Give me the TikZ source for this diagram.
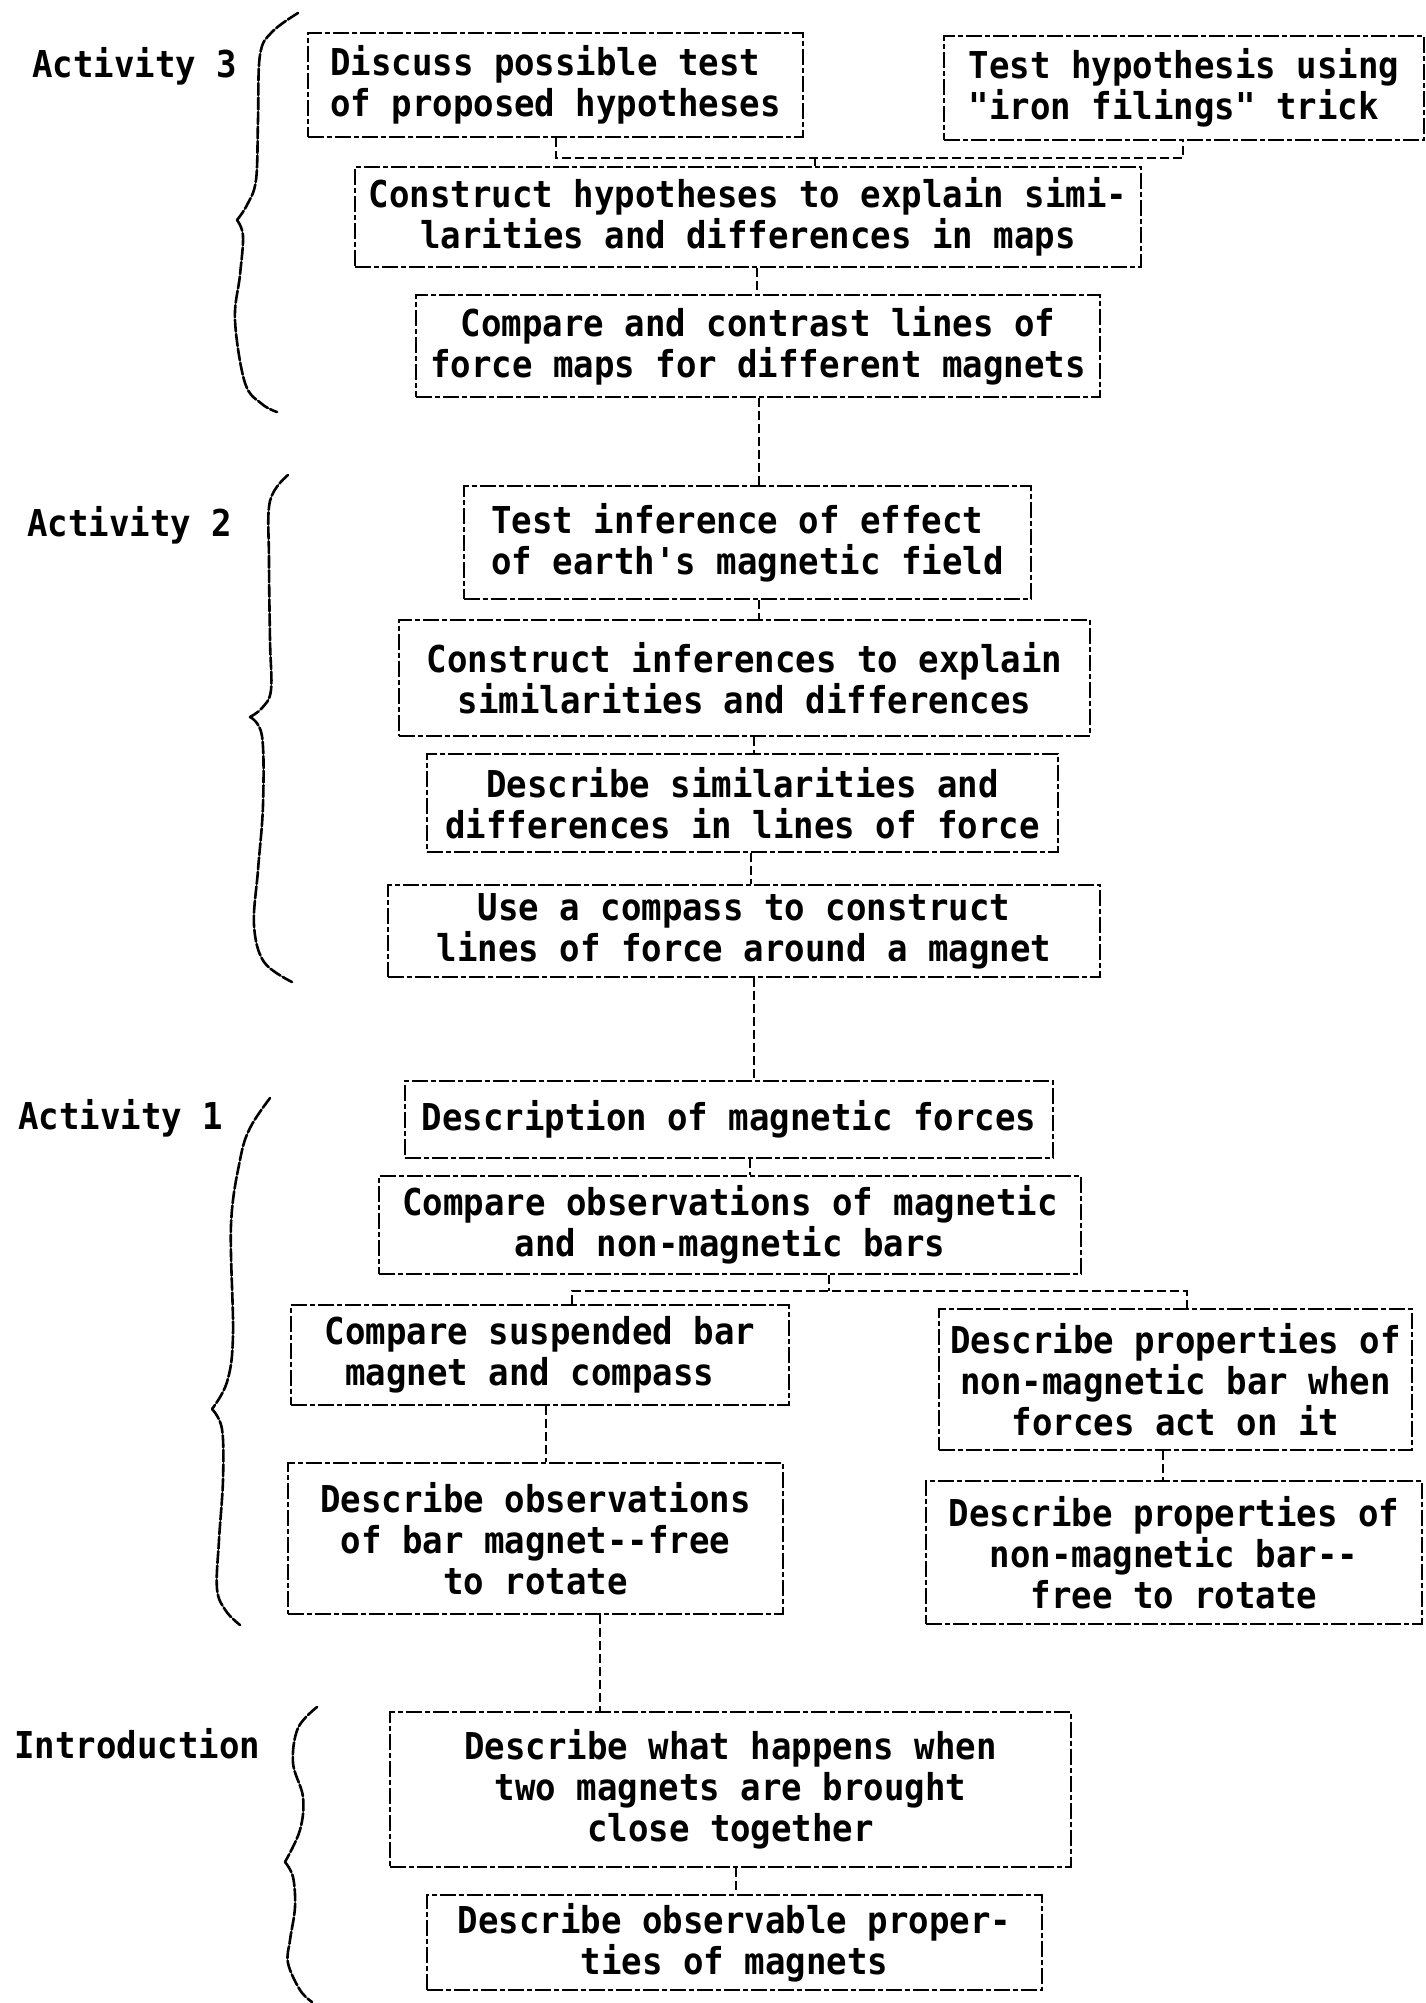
\documentclass[tikz,border=0pt]{standalone}
\usepackage{fontspec}
\setmonofont[FakeStretch=0.92]{DejaVu Sans Mono}
\begin{document}
\begin{tikzpicture}[x=1pt,y=-1pt,
  font=\fontsize{37}{41}\selectfont\ttfamily\bfseries,
  tbox/.style={draw, line width=2pt, dash pattern=on 16pt off 3pt on 5pt off 3pt, inner sep=0pt, align=center},
  lbox/.style={tbox, align=left},
  conn/.style={line width=1.8pt, dash pattern=on 9pt off 4pt},
  bracestyle/.style={line width=2.6pt, dash pattern=on 12pt off 2.5pt, line cap=round},
  lab/.style={anchor=base west, inner sep=0pt}]
\fill[white] (0,0) rectangle (1426,2003);
\useasboundingbox (0,0) rectangle (1426,2003);

% ---------- labels ----------
\node[lab] (l3) at (32,77) {Activity 3};
\node[lab] (l2) at (27,536) {Activity 2};
\node[lab] (l1) at (18,1129) {Activity 1};
\node[lab] (l0) at (14,1758) {Introduction};

% ---------- braces ----------
\draw[bracestyle] plot[smooth, tension=0.6] coordinates {(298,13) (272,32) (260,55) (258,120) (256,180) (247,205) (237,220)};
\draw[bracestyle] plot[smooth, tension=0.6] coordinates {(237,220) (243,236) (240,275) (235,320) (245,383) (262,404) (277,412)};
\draw[bracestyle] plot[smooth, tension=0.6] coordinates {(288,475) (270,501) (269,560) (270,640) (271,690) (262,708) (250,717)};
\draw[bracestyle] plot[smooth, tension=0.6] coordinates {(250,717) (262,736) (263,805) (258,870) (254,925) (264,962) (292,982)};
\draw[bracestyle] plot[smooth, tension=0.6] coordinates {(270,1098) (250,1128) (240,1160) (231,1225) (233,1335) (227,1382) (212,1409)};
\draw[bracestyle] plot[smooth, tension=0.6] coordinates {(212,1409) (222,1429) (223,1480) (219,1540) (217,1589) (226,1611) (240,1625)};
\draw[bracestyle] plot[smooth, tension=0.6] coordinates {(317,1707) (298,1728) (293,1763) (303,1797) (300,1830) (285,1862)};
\draw[bracestyle] plot[smooth, tension=0.6] coordinates {(285,1862) (293,1877) (295,1907) (290,1940) (288,1963) (300,1990) (312,2002)};

% ---------- Activity 3 ----------
\node[lbox, minimum width=495pt, minimum height=104pt] (disc) at (555.5,85) {Discuss possible test\\of proposed hypotheses};
\node[lbox, minimum width=480pt, minimum height=104pt] (iron) at (1184,88) {Test hypothesis using\\"iron filings" trick};
\node[tbox, minimum width=786pt, minimum height=100pt] (chyp) at (748,217) {Construct hypotheses to explain simi-\\larities and differences in maps};
\node[tbox, minimum width=684pt, minimum height=102pt] (cmap) at (758,346) {Compare and contrast lines of\\force maps for different magnets};

% ---------- Activity 2 ----------
\node[lbox, minimum width=567pt, minimum height=113pt] (tinf) at (747.5,542.5) {Test inference of effect\\of earth's magnetic field};
\node[tbox, minimum width=691pt, minimum height=116pt] (cinf) at (744.5,678) {Construct inferences to explain\\similarities and differences};
\node[tbox, minimum width=631pt, minimum height=98pt] (dsim) at (742.5,803) {Describe similarities and\\differences in lines of force};
\node[tbox, minimum width=712pt, minimum height=92pt] (ucmp) at (744,931) {Use a compass to construct\\lines of force around a magnet};

% ---------- Activity 1 ----------
\node[tbox, minimum width=648pt, minimum height=77pt] (dmf) at (729,1119.5) {Description of magnetic forces};
\node[tbox, minimum width=702pt, minimum height=98pt] (cobs) at (730,1225) {Compare observations of magnetic\\and non-magnetic bars};
\node[lbox, minimum width=498pt, minimum height=100pt] (csus) at (540,1355) {Compare suspended bar\\\phantom{C}magnet and compass};
\node[tbox, minimum width=473pt, minimum height=141pt] (dpw) at (1175.5,1379.5) {Describe properties of\\non-magnetic bar when\\forces act on it};
\node[tbox, minimum width=495pt, minimum height=151pt] (dobs) at (535.5,1538.5) {Describe observations\\of bar magnet--free\\to rotate};
\node[tbox, minimum width=496pt, minimum height=143pt] (dpr) at (1174,1552.5) {Describe properties of\\non-magnetic bar--\\free to rotate};

% ---------- Introduction ----------
\node[tbox, minimum width=681pt, minimum height=155pt] (dwh) at (730.5,1789.5) {Describe what happens when\\two magnets are brought\\close together};
\node[tbox, minimum width=615pt, minimum height=95pt] (dop) at (734.5,1942.5) {Describe observable proper-\\ties of magnets};

% ---------- connectors ----------
\coordinate (ja) at (556,158);
\coordinate (jm) at (815,158);
\coordinate (jb) at (1183,158);
\draw[conn] (disc.south -| ja) -- (ja) -- (jb) -- (iron.south -| jb);
\draw[conn] (jm) -- (chyp.north -| jm);

\coordinate (c1) at (757,0);
\coordinate (c2) at (759,0);
\coordinate (c4) at (754,0);
\coordinate (c5) at (751,0);
\coordinate (c7) at (750,0);
\draw[conn] (chyp.south -| c1) -- (cmap.north -| c1);
\draw[conn] (cmap.south -| c2) -- (tinf.north -| c2);
\draw[conn] (tinf.south -| c2) -- (cinf.north -| c2);
\draw[conn] (cinf.south -| c4) -- (dsim.north -| c4);
\draw[conn] (dsim.south -| c5) -- (ucmp.north -| c5);
\draw[conn] (ucmp.south -| c4) -- (dmf.north -| c4);
\draw[conn] (dmf.south -| c7) -- (cobs.north -| c7);

\coordinate (ka) at (572,1291);
\coordinate (km) at (829,1291);
\coordinate (kb) at (1187,1291);
\draw[conn] (cobs.south -| km) -- (km);
\draw[conn] (csus.north -| ka) -- (ka) -- (kb) -- (dpw.north -| kb);

\coordinate (c8) at (546,0);
\coordinate (c9) at (1163,0);
\coordinate (c10) at (600,0);
\coordinate (c11) at (736,0);
\draw[conn] (csus.south -| c8) -- (dobs.north -| c8);
\draw[conn] (dpw.south -| c9) -- (dpr.north -| c9);
\draw[conn] (dobs.south -| c10) -- (dwh.north -| c10);
\draw[conn] (dwh.south -| c11) -- (dop.north -| c11);
\end{tikzpicture}
\end{document}
